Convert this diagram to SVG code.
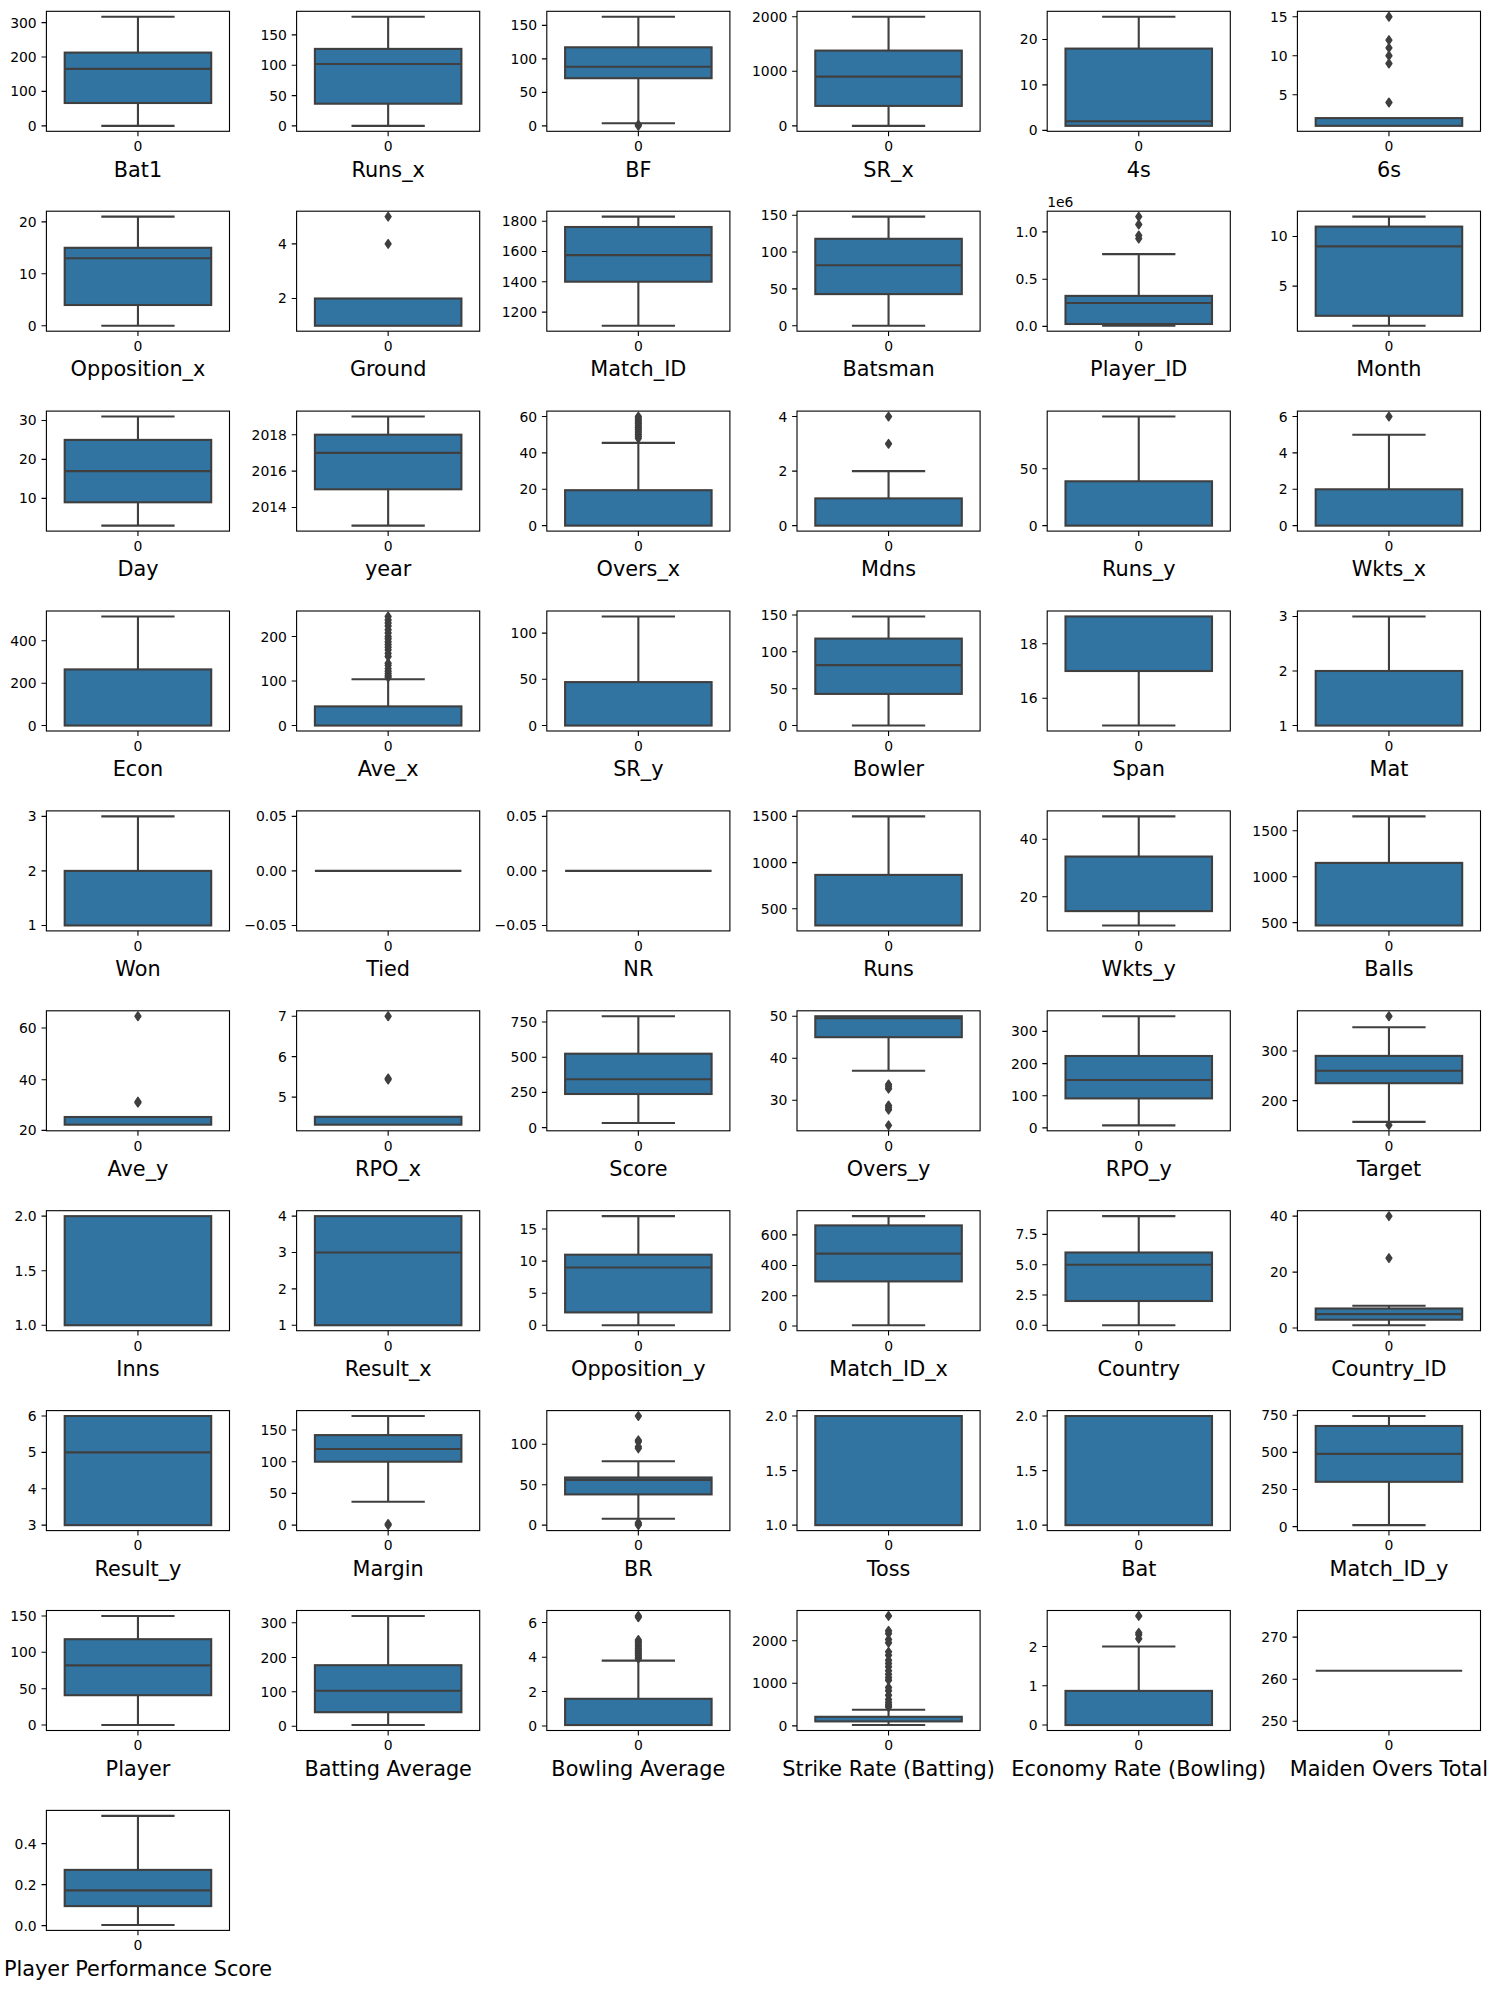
<svg xmlns="http://www.w3.org/2000/svg" xmlns:xlink="http://www.w3.org/1999/xlink" width="1489" height="1990" viewBox="0 0 1489 1990">
<style>
.bg{fill:#fff}
.fr{fill:none;stroke:#000;stroke-width:1.1}
.bx{fill:#3274a1;stroke:#3f3f3f;stroke-width:2.1}
.ln{fill:none;stroke:#3f3f3f;stroke-width:2.1}
.tk{fill:none;stroke:#000;stroke-width:1.1}
text{font-family:"DejaVu Sans","Noto Sans",sans-serif;fill:#000}
.tl{font-size:13.9px;text-anchor:end}
.x0{font-size:13.9px;text-anchor:middle}
.of{font-size:13.9px;text-anchor:start}
.lb{font-size:20.8px;text-anchor:middle}
</style>
<defs>
<path id="d" d="M0,-4.2L2.9,0L0,4.2L-2.9,0Z" fill="#3f3f3f" stroke="#3f3f3f" stroke-width="1.5" stroke-linejoin="round"/>
</defs>
<rect width="1489" height="1990" fill="#fff"/>
<g id="connectors"/>

<!-- Row 0 -->
<g id="plot-bat1" transform="translate(46.4,11.3)">
<rect class="bg" width="183.1" height="120"/>
<path class="ln" d="M91.55,41.3V5.45M54.9,5.45H128.2M91.55,91.7V114.55M54.9,114.55H128.2"/>
<rect class="bx" x="18.3" y="41.3" width="146.5" height="50.4"/>
<path class="ln" d="M18.3,57.6H164.8"/>
<rect class="fr" width="183.1" height="120"/>
<path class="tk" d="M-4.9,11.3H0M-4.9,45.7H0M-4.9,80.1H0M-4.9,114.55H0M91.55,120V124.9"/>
<text class="tl" x="-9.7" y="16.3">300</text><text class="tl" x="-9.7" y="50.7">200</text><text class="tl" x="-9.7" y="85.1">100</text><text class="tl" x="-9.7" y="119.55">0</text>
<text class="x0" x="91.55" y="139.9">0</text>
<text class="lb" x="91.55" y="165.3">Bat1</text>
</g>

<g id="plot-runs-x" transform="translate(296.6,11.3)">
<rect class="bg" width="183.1" height="120"/>
<path class="ln" d="M91.55,37.6V5.45M54.9,5.45H128.2M91.55,92.4V114.55M54.9,114.55H128.2"/>
<rect class="bx" x="18.3" y="37.6" width="146.5" height="54.8"/>
<path class="ln" d="M18.3,52.7H164.8"/>
<rect class="fr" width="183.1" height="120"/>
<path class="tk" d="M-4.9,23.6H0M-4.9,54H0M-4.9,84.3H0M-4.9,114.55H0M91.55,120V124.9"/>
<text class="tl" x="-9.7" y="28.6">150</text><text class="tl" x="-9.7" y="59">100</text><text class="tl" x="-9.7" y="89.3">50</text><text class="tl" x="-9.7" y="119.55">0</text>
<text class="x0" x="91.55" y="139.9">0</text>
<text class="lb" x="91.55" y="165.3">Runs_x</text>
</g>

<g id="plot-bf" transform="translate(546.8,11.3)">
<rect class="bg" width="183.1" height="120"/>
<path class="ln" d="M91.55,36V5.45M54.9,5.45H128.2M91.55,66.9V111.9M54.9,111.9H128.2"/>
<rect class="bx" x="18.3" y="36" width="146.5" height="30.9"/>
<path class="ln" d="M18.3,55.5H164.8"/>
<use href="#d" x="91.55" y="114.55"/><use href="#d" x="91.55" y="113.4"/>
<rect class="fr" width="183.1" height="120"/>
<path class="tk" d="M-4.9,14.1H0M-4.9,47.6H0M-4.9,81.1H0M-4.9,114.55H0M91.55,120V124.9"/>
<text class="tl" x="-9.7" y="19.1">150</text><text class="tl" x="-9.7" y="52.6">100</text><text class="tl" x="-9.7" y="86.1">50</text><text class="tl" x="-9.7" y="119.55">0</text>
<text class="x0" x="91.55" y="139.9">0</text>
<text class="lb" x="91.55" y="165.3">BF</text>
</g>

<g id="plot-sr-x" transform="translate(797,11.3)">
<rect class="bg" width="183.1" height="120"/>
<path class="ln" d="M91.55,39.3V5.45M54.9,5.45H128.2M91.55,94.6V114.55M54.9,114.55H128.2"/>
<rect class="bx" x="18.3" y="39.3" width="146.5" height="55.3"/>
<path class="ln" d="M18.3,65.3H164.8"/>
<rect class="fr" width="183.1" height="120"/>
<path class="tk" d="M-4.9,5.45H0M-4.9,60H0M-4.9,114.55H0M91.55,120V124.9"/>
<text class="tl" x="-9.7" y="10.45">2000</text><text class="tl" x="-9.7" y="65">1000</text><text class="tl" x="-9.7" y="119.55">0</text>
<text class="x0" x="91.55" y="139.9">0</text>
<text class="lb" x="91.55" y="165.3">SR_x</text>
</g>

<g id="plot-4s" transform="translate(1047.2,11.3)">
<rect class="bg" width="183.1" height="120"/>
<path class="ln" d="M91.55,37.3V5.45M54.9,5.45H128.2"/>
<rect class="bx" x="18.3" y="37.3" width="146.5" height="77.25"/>
<path class="ln" d="M18.3,110H164.8"/>
<rect class="fr" width="183.1" height="120"/>
<path class="tk" d="M-4.9,28.2H0M-4.9,73.6H0M-4.9,119.1H0M91.55,120V124.9"/>
<text class="tl" x="-9.7" y="33.2">20</text><text class="tl" x="-9.7" y="78.6">10</text><text class="tl" x="-9.7" y="124.1">0</text>
<text class="x0" x="91.55" y="139.9">0</text>
<text class="lb" x="91.55" y="165.3">4s</text>
</g>

<g id="plot-6s" transform="translate(1297.4,11.3)">
<rect class="bg" width="183.1" height="120"/>
<rect class="bx" x="18.3" y="106.8" width="146.5" height="7.75"/>
<use href="#d" x="91.55" y="5.45"/><use href="#d" x="91.55" y="28.8"/><use href="#d" x="91.55" y="36.6"/><use href="#d" x="91.55" y="44.4"/><use href="#d" x="91.55" y="52.2"/><use href="#d" x="91.55" y="91.2"/>
<rect class="fr" width="183.1" height="120"/>
<path class="tk" d="M-4.9,5.45H0M-4.9,44.4H0M-4.9,83.4H0M91.55,120V124.9"/>
<text class="tl" x="-9.7" y="10.45">15</text><text class="tl" x="-9.7" y="49.4">10</text><text class="tl" x="-9.7" y="88.4">5</text>
<text class="x0" x="91.55" y="139.9">0</text>
<text class="lb" x="91.55" y="165.3">6s</text>
</g>

<!-- Row 1 -->
<g id="plot-opposition-x" transform="translate(46.4,211.2)">
<rect class="bg" width="183.1" height="120"/>
<path class="ln" d="M91.55,36.6V5.45M54.9,5.45H128.2M91.55,93.8V114.55M54.9,114.55H128.2"/>
<rect class="bx" x="18.3" y="36.6" width="146.5" height="57.2"/>
<path class="ln" d="M18.3,47H164.8"/>
<rect class="fr" width="183.1" height="120"/>
<path class="tk" d="M-4.9,10.65H0M-4.9,62.6H0M-4.9,114.55H0M91.55,120V124.9"/>
<text class="tl" x="-9.7" y="15.65">20</text><text class="tl" x="-9.7" y="67.6">10</text><text class="tl" x="-9.7" y="119.55">0</text>
<text class="x0" x="91.55" y="139.9">0</text>
<text class="lb" x="91.55" y="165.3">Opposition_x</text>
</g>

<g id="plot-ground" transform="translate(296.6,211.2)">
<rect class="bg" width="183.1" height="120"/>
<rect class="bx" x="18.3" y="87.3" width="146.5" height="27.25"/>
<use href="#d" x="91.55" y="5.45"/><use href="#d" x="91.55" y="32.7"/>
<rect class="fr" width="183.1" height="120"/>
<path class="tk" d="M-4.9,32.7H0M-4.9,87.3H0M91.55,120V124.9"/>
<text class="tl" x="-9.7" y="37.7">4</text><text class="tl" x="-9.7" y="92.3">2</text>
<text class="x0" x="91.55" y="139.9">0</text>
<text class="lb" x="91.55" y="165.3">Ground</text>
</g>

<g id="plot-match-id" transform="translate(546.8,211.2)">
<rect class="bg" width="183.1" height="120"/>
<path class="ln" d="M91.55,15.8V5.45M54.9,5.45H128.2M91.55,70.5V114.55M54.9,114.55H128.2"/>
<rect class="bx" x="18.3" y="15.8" width="146.5" height="54.7"/>
<path class="ln" d="M18.3,43.9H164.8"/>
<rect class="fr" width="183.1" height="120"/>
<path class="tk" d="M-4.9,10H0M-4.9,40.3H0M-4.9,70.6H0M-4.9,100.9H0M91.55,120V124.9"/>
<text class="tl" x="-9.7" y="15">1800</text><text class="tl" x="-9.7" y="45.3">1600</text><text class="tl" x="-9.7" y="75.6">1400</text><text class="tl" x="-9.7" y="105.9">1200</text>
<text class="x0" x="91.55" y="139.9">0</text>
<text class="lb" x="91.55" y="165.3">Match_ID</text>
</g>

<g id="plot-batsman" transform="translate(797,211.2)">
<rect class="bg" width="183.1" height="120"/>
<path class="ln" d="M91.55,27.6V5.45M54.9,5.45H128.2M91.55,82.9V114.55M54.9,114.55H128.2"/>
<rect class="bx" x="18.3" y="27.6" width="146.5" height="55.3"/>
<path class="ln" d="M18.3,54.1H164.8"/>
<rect class="fr" width="183.1" height="120"/>
<path class="tk" d="M-4.9,4H0M-4.9,40.8H0M-4.9,77.7H0M-4.9,114.55H0M91.55,120V124.9"/>
<text class="tl" x="-9.7" y="9">150</text><text class="tl" x="-9.7" y="45.8">100</text><text class="tl" x="-9.7" y="82.7">50</text><text class="tl" x="-9.7" y="119.55">0</text>
<text class="x0" x="91.55" y="139.9">0</text>
<text class="lb" x="91.55" y="165.3">Batsman</text>
</g>

<g id="plot-player-id" transform="translate(1047.2,211.2)">
<rect class="bg" width="183.1" height="120"/>
<path class="ln" d="M91.55,84.7V42.9M54.9,42.9H128.2M91.55,112.8V114.55M54.9,114.55H128.2"/>
<rect class="bx" x="18.3" y="84.7" width="146.5" height="28.1"/>
<path class="ln" d="M18.3,91.8H164.8"/>
<use href="#d" x="91.55" y="5.45"/><use href="#d" x="91.55" y="13.3"/><use href="#d" x="91.55" y="24.3"/><use href="#d" x="91.55" y="27.4"/>
<rect class="fr" width="183.1" height="120"/>
<path class="tk" d="M-4.9,20.7H0M-4.9,68H0M-4.9,115.2H0M91.55,120V124.9"/>
<text class="tl" x="-9.7" y="25.7">1.0</text><text class="tl" x="-9.7" y="73">0.5</text><text class="tl" x="-9.7" y="120.2">0.0</text>
<text class="of" x="0" y="-4">1e6</text>
<text class="x0" x="91.55" y="139.9">0</text>
<text class="lb" x="91.55" y="165.3">Player_ID</text>
</g>

<g id="plot-month" transform="translate(1297.4,211.2)">
<rect class="bg" width="183.1" height="120"/>
<path class="ln" d="M91.55,15.4V5.45M54.9,5.45H128.2M91.55,104.6V114.55M54.9,114.55H128.2"/>
<rect class="bx" x="18.3" y="15.4" width="146.5" height="89.2"/>
<path class="ln" d="M18.3,35.2H164.8"/>
<rect class="fr" width="183.1" height="120"/>
<path class="tk" d="M-4.9,25.3H0M-4.9,74.9H0M91.55,120V124.9"/>
<text class="tl" x="-9.7" y="30.3">10</text><text class="tl" x="-9.7" y="79.9">5</text>
<text class="x0" x="91.55" y="139.9">0</text>
<text class="lb" x="91.55" y="165.3">Month</text>
</g>

<!-- Row 2 -->
<g id="plot-day" transform="translate(46.4,411.1)">
<rect class="bg" width="183.1" height="120"/>
<path class="ln" d="M91.55,28.8V5.45M54.9,5.45H128.2M91.55,91.2V114.55M54.9,114.55H128.2"/>
<rect class="bx" x="18.3" y="28.8" width="146.5" height="62.4"/>
<path class="ln" d="M18.3,60H164.8"/>
<rect class="fr" width="183.1" height="120"/>
<path class="tk" d="M-4.9,9.35H0M-4.9,48.3H0M-4.9,87.3H0M91.55,120V124.9"/>
<text class="tl" x="-9.7" y="14.35">30</text><text class="tl" x="-9.7" y="53.3">20</text><text class="tl" x="-9.7" y="92.3">10</text>
<text class="x0" x="91.55" y="139.9">0</text>
<text class="lb" x="91.55" y="165.3">Day</text>
</g>

<g id="plot-year" transform="translate(296.6,411.1)">
<rect class="bg" width="183.1" height="120"/>
<path class="ln" d="M91.55,23.6V5.45M54.9,5.45H128.2M91.55,78.2V114.55M54.9,114.55H128.2"/>
<rect class="bx" x="18.3" y="23.6" width="146.5" height="54.6"/>
<path class="ln" d="M18.3,41.8H164.8"/>
<rect class="fr" width="183.1" height="120"/>
<path class="tk" d="M-4.9,23.6H0M-4.9,60H0M-4.9,96.4H0M91.55,120V124.9"/>
<text class="tl" x="-9.7" y="28.6">2018</text><text class="tl" x="-9.7" y="65">2016</text><text class="tl" x="-9.7" y="101.4">2014</text>
<text class="x0" x="91.55" y="139.9">0</text>
<text class="lb" x="91.55" y="165.3">year</text>
</g>

<g id="plot-overs-x" transform="translate(546.8,411.1)">
<rect class="bg" width="183.1" height="120"/>
<path class="ln" d="M91.55,79.1V31.8M54.9,31.8H128.2"/>
<rect class="bx" x="18.3" y="79.1" width="146.5" height="35.45"/>
<use href="#d" x="91.55" y="5.45"/><use href="#d" x="91.55" y="7.3"/><use href="#d" x="91.55" y="9.1"/><use href="#d" x="91.55" y="10.9"/><use href="#d" x="91.55" y="12.7"/><use href="#d" x="91.55" y="14.6"/><use href="#d" x="91.55" y="16.4"/><use href="#d" x="91.55" y="18.2"/><use href="#d" x="91.55" y="20"/><use href="#d" x="91.55" y="21.8"/><use href="#d" x="91.55" y="23.7"/><use href="#d" x="91.55" y="25.5"/><use href="#d" x="91.55" y="27.3"/>
<rect class="fr" width="183.1" height="120"/>
<path class="tk" d="M-4.9,5.45H0M-4.9,41.8H0M-4.9,78.2H0M-4.9,114.55H0M91.55,120V124.9"/>
<text class="tl" x="-9.7" y="10.45">60</text><text class="tl" x="-9.7" y="46.8">40</text><text class="tl" x="-9.7" y="83.2">20</text><text class="tl" x="-9.7" y="119.55">0</text>
<text class="x0" x="91.55" y="139.9">0</text>
<text class="lb" x="91.55" y="165.3">Overs_x</text>
</g>

<g id="plot-mdns" transform="translate(797,411.1)">
<rect class="bg" width="183.1" height="120"/>
<path class="ln" d="M91.55,87.3V60M54.9,60H128.2"/>
<rect class="bx" x="18.3" y="87.3" width="146.5" height="27.25"/>
<use href="#d" x="91.55" y="5.45"/><use href="#d" x="91.55" y="32.7"/>
<rect class="fr" width="183.1" height="120"/>
<path class="tk" d="M-4.9,5.45H0M-4.9,60H0M-4.9,114.55H0M91.55,120V124.9"/>
<text class="tl" x="-9.7" y="10.45">4</text><text class="tl" x="-9.7" y="65">2</text><text class="tl" x="-9.7" y="119.55">0</text>
<text class="x0" x="91.55" y="139.9">0</text>
<text class="lb" x="91.55" y="165.3">Mdns</text>
</g>

<g id="plot-runs-y" transform="translate(1047.2,411.1)">
<rect class="bg" width="183.1" height="120"/>
<path class="ln" d="M91.55,70.2V5.45M54.9,5.45H128.2"/>
<rect class="bx" x="18.3" y="70.2" width="146.5" height="44.35"/>
<rect class="fr" width="183.1" height="120"/>
<path class="tk" d="M-4.9,57.7H0M-4.9,114.55H0M91.55,120V124.9"/>
<text class="tl" x="-9.7" y="62.7">50</text><text class="tl" x="-9.7" y="119.55">0</text>
<text class="x0" x="91.55" y="139.9">0</text>
<text class="lb" x="91.55" y="165.3">Runs_y</text>
</g>

<g id="plot-wkts-x" transform="translate(1297.4,411.1)">
<rect class="bg" width="183.1" height="120"/>
<path class="ln" d="M91.55,78.2V23.6M54.9,23.6H128.2"/>
<rect class="bx" x="18.3" y="78.2" width="146.5" height="36.35"/>
<use href="#d" x="91.55" y="5.45"/>
<rect class="fr" width="183.1" height="120"/>
<path class="tk" d="M-4.9,5.45H0M-4.9,41.8H0M-4.9,78.2H0M-4.9,114.55H0M91.55,120V124.9"/>
<text class="tl" x="-9.7" y="10.45">6</text><text class="tl" x="-9.7" y="46.8">4</text><text class="tl" x="-9.7" y="83.2">2</text><text class="tl" x="-9.7" y="119.55">0</text>
<text class="x0" x="91.55" y="139.9">0</text>
<text class="lb" x="91.55" y="165.3">Wkts_x</text>
</g>

<!-- Row 3 -->
<g id="plot-econ" transform="translate(46.4,611)">
<rect class="bg" width="183.1" height="120"/>
<path class="ln" d="M91.55,58.4V5.45M54.9,5.45H128.2"/>
<rect class="bx" x="18.3" y="58.4" width="146.5" height="56.15"/>
<rect class="fr" width="183.1" height="120"/>
<path class="tk" d="M-4.9,29.8H0M-4.9,72.2H0M-4.9,114.55H0M91.55,120V124.9"/>
<text class="tl" x="-9.7" y="34.8">400</text><text class="tl" x="-9.7" y="77.2">200</text><text class="tl" x="-9.7" y="119.55">0</text>
<text class="x0" x="91.55" y="139.9">0</text>
<text class="lb" x="91.55" y="165.3">Econ</text>
</g>

<g id="plot-ave-x" transform="translate(296.6,611)">
<rect class="bg" width="183.1" height="120"/>
<path class="ln" d="M91.55,95.4V68.2M54.9,68.2H128.2"/>
<rect class="bx" x="18.3" y="95.4" width="146.5" height="19.15"/>
<use href="#d" x="91.55" y="5.45"/><use href="#d" x="91.55" y="9"/><use href="#d" x="91.55" y="12"/><use href="#d" x="91.55" y="15"/><use href="#d" x="91.55" y="18.8"/><use href="#d" x="91.55" y="22"/><use href="#d" x="91.55" y="25.5"/><use href="#d" x="91.55" y="27.7"/><use href="#d" x="91.55" y="30.8"/><use href="#d" x="91.55" y="33.5"/><use href="#d" x="91.55" y="36.2"/><use href="#d" x="91.55" y="38.9"/><use href="#d" x="91.55" y="42.4"/><use href="#d" x="91.55" y="45.5"/><use href="#d" x="91.55" y="52.2"/><use href="#d" x="91.55" y="54.4"/><use href="#d" x="91.55" y="57.6"/><use href="#d" x="91.55" y="60.2"/><use href="#d" x="91.55" y="62.5"/><use href="#d" x="91.55" y="64.7"/><use href="#d" x="91.55" y="66.3"/>
<rect class="fr" width="183.1" height="120"/>
<path class="tk" d="M-4.9,25.5H0M-4.9,70H0M-4.9,114.55H0M91.55,120V124.9"/>
<text class="tl" x="-9.7" y="30.5">200</text><text class="tl" x="-9.7" y="75">100</text><text class="tl" x="-9.7" y="119.55">0</text>
<text class="x0" x="91.55" y="139.9">0</text>
<text class="lb" x="91.55" y="165.3">Ave_x</text>
</g>

<g id="plot-sr-y" transform="translate(546.8,611)">
<rect class="bg" width="183.1" height="120"/>
<path class="ln" d="M91.55,71.1V5.45M54.9,5.45H128.2"/>
<rect class="bx" x="18.3" y="71.1" width="146.5" height="43.45"/>
<rect class="fr" width="183.1" height="120"/>
<path class="tk" d="M-4.9,22.1H0M-4.9,68.3H0M-4.9,114.55H0M91.55,120V124.9"/>
<text class="tl" x="-9.7" y="27.1">100</text><text class="tl" x="-9.7" y="73.3">50</text><text class="tl" x="-9.7" y="119.55">0</text>
<text class="x0" x="91.55" y="139.9">0</text>
<text class="lb" x="91.55" y="165.3">SR_y</text>
</g>

<g id="plot-bowler" transform="translate(797,611)">
<rect class="bg" width="183.1" height="120"/>
<path class="ln" d="M91.55,27.6V5.45M54.9,5.45H128.2M91.55,82.9V114.55M54.9,114.55H128.2"/>
<rect class="bx" x="18.3" y="27.6" width="146.5" height="55.3"/>
<path class="ln" d="M18.3,54.1H164.8"/>
<rect class="fr" width="183.1" height="120"/>
<path class="tk" d="M-4.9,4H0M-4.9,40.8H0M-4.9,77.7H0M-4.9,114.55H0M91.55,120V124.9"/>
<text class="tl" x="-9.7" y="9">150</text><text class="tl" x="-9.7" y="45.8">100</text><text class="tl" x="-9.7" y="82.7">50</text><text class="tl" x="-9.7" y="119.55">0</text>
<text class="x0" x="91.55" y="139.9">0</text>
<text class="lb" x="91.55" y="165.3">Bowler</text>
</g>

<g id="plot-span" transform="translate(1047.2,611)">
<rect class="bg" width="183.1" height="120"/>
<path class="ln" d="M91.55,60V114.55M54.9,114.55H128.2"/>
<rect class="bx" x="18.3" y="5.45" width="146.5" height="54.55"/>
<rect class="fr" width="183.1" height="120"/>
<path class="tk" d="M-4.9,32.7H0M-4.9,87.3H0M91.55,120V124.9"/>
<text class="tl" x="-9.7" y="37.7">18</text><text class="tl" x="-9.7" y="92.3">16</text>
<text class="x0" x="91.55" y="139.9">0</text>
<text class="lb" x="91.55" y="165.3">Span</text>
</g>

<g id="plot-mat" transform="translate(1297.4,611)">
<rect class="bg" width="183.1" height="120"/>
<path class="ln" d="M91.55,60V5.45M54.9,5.45H128.2"/>
<rect class="bx" x="18.3" y="60" width="146.5" height="54.55"/>
<rect class="fr" width="183.1" height="120"/>
<path class="tk" d="M-4.9,5.45H0M-4.9,60H0M-4.9,114.55H0M91.55,120V124.9"/>
<text class="tl" x="-9.7" y="10.45">3</text><text class="tl" x="-9.7" y="65">2</text><text class="tl" x="-9.7" y="119.55">1</text>
<text class="x0" x="91.55" y="139.9">0</text>
<text class="lb" x="91.55" y="165.3">Mat</text>
</g>

<!-- Row 4 -->
<g id="plot-won" transform="translate(46.4,810.9)">
<rect class="bg" width="183.1" height="120"/>
<path class="ln" d="M91.55,60V5.45M54.9,5.45H128.2"/>
<rect class="bx" x="18.3" y="60" width="146.5" height="54.55"/>
<rect class="fr" width="183.1" height="120"/>
<path class="tk" d="M-4.9,5.45H0M-4.9,60H0M-4.9,114.55H0M91.55,120V124.9"/>
<text class="tl" x="-9.7" y="10.45">3</text><text class="tl" x="-9.7" y="65">2</text><text class="tl" x="-9.7" y="119.55">1</text>
<text class="x0" x="91.55" y="139.9">0</text>
<text class="lb" x="91.55" y="165.3">Won</text>
</g>

<g id="plot-tied" transform="translate(296.6,810.9)">
<rect class="bg" width="183.1" height="120"/>
<path class="ln" d="M18.3,60H164.8"/>
<rect class="fr" width="183.1" height="120"/>
<path class="tk" d="M-4.9,5.45H0M-4.9,60H0M-4.9,114.55H0M91.55,120V124.9"/>
<text class="tl" x="-9.7" y="10.45">0.05</text><text class="tl" x="-9.7" y="65">0.00</text><text class="tl" x="-9.7" y="119.55">−0.05</text>
<text class="x0" x="91.55" y="139.9">0</text>
<text class="lb" x="91.55" y="165.3">Tied</text>
</g>

<g id="plot-nr" transform="translate(546.8,810.9)">
<rect class="bg" width="183.1" height="120"/>
<path class="ln" d="M18.3,60H164.8"/>
<rect class="fr" width="183.1" height="120"/>
<path class="tk" d="M-4.9,5.45H0M-4.9,60H0M-4.9,114.55H0M91.55,120V124.9"/>
<text class="tl" x="-9.7" y="10.45">0.05</text><text class="tl" x="-9.7" y="65">0.00</text><text class="tl" x="-9.7" y="119.55">−0.05</text>
<text class="x0" x="91.55" y="139.9">0</text>
<text class="lb" x="91.55" y="165.3">NR</text>
</g>

<g id="plot-runs" transform="translate(797,810.9)">
<rect class="bg" width="183.1" height="120"/>
<path class="ln" d="M91.55,64V5.45M54.9,5.45H128.2"/>
<rect class="bx" x="18.3" y="64" width="146.5" height="50.55"/>
<rect class="fr" width="183.1" height="120"/>
<path class="tk" d="M-4.9,5.45H0M-4.9,51.7H0M-4.9,97.9H0M91.55,120V124.9"/>
<text class="tl" x="-9.7" y="10.45">1500</text><text class="tl" x="-9.7" y="56.7">1000</text><text class="tl" x="-9.7" y="102.9">500</text>
<text class="x0" x="91.55" y="139.9">0</text>
<text class="lb" x="91.55" y="165.3">Runs</text>
</g>

<g id="plot-wkts-y" transform="translate(1047.2,810.9)">
<rect class="bg" width="183.1" height="120"/>
<path class="ln" d="M91.55,45.65V5.45M54.9,5.45H128.2M91.55,100.2V114.55M54.9,114.55H128.2"/>
<rect class="bx" x="18.3" y="45.65" width="146.5" height="54.55"/>
<rect class="fr" width="183.1" height="120"/>
<path class="tk" d="M-4.9,28.4H0M-4.9,85.8H0M91.55,120V124.9"/>
<text class="tl" x="-9.7" y="33.4">40</text><text class="tl" x="-9.7" y="90.8">20</text>
<text class="x0" x="91.55" y="139.9">0</text>
<text class="lb" x="91.55" y="165.3">Wkts_y</text>
</g>

<g id="plot-balls" transform="translate(1297.4,810.9)">
<rect class="bg" width="183.1" height="120"/>
<path class="ln" d="M91.55,52V5.45M54.9,5.45H128.2"/>
<rect class="bx" x="18.3" y="52" width="146.5" height="62.55"/>
<rect class="fr" width="183.1" height="120"/>
<path class="tk" d="M-4.9,19.9H0M-4.9,65.8H0M-4.9,111.7H0M91.55,120V124.9"/>
<text class="tl" x="-9.7" y="24.9">1500</text><text class="tl" x="-9.7" y="70.8">1000</text><text class="tl" x="-9.7" y="116.7">500</text>
<text class="x0" x="91.55" y="139.9">0</text>
<text class="lb" x="91.55" y="165.3">Balls</text>
</g>

<!-- Row 5 -->
<g id="plot-ave-y" transform="translate(46.4,1010.8)">
<rect class="bg" width="183.1" height="120"/>
<rect class="bx" x="18.3" y="106.2" width="146.5" height="7.7"/>
<use href="#d" x="91.55" y="5.45"/><use href="#d" x="91.55" y="90.8"/><use href="#d" x="91.55" y="91.9"/>
<rect class="fr" width="183.1" height="120"/>
<path class="tk" d="M-4.9,17.2H0M-4.9,68.9H0M-4.9,119.6H0M91.55,120V124.9"/>
<text class="tl" x="-9.7" y="22.2">60</text><text class="tl" x="-9.7" y="73.9">40</text><text class="tl" x="-9.7" y="124.6">20</text>
<text class="x0" x="91.55" y="139.9">0</text>
<text class="lb" x="91.55" y="165.3">Ave_y</text>
</g>

<g id="plot-rpo-x" transform="translate(296.6,1010.8)">
<rect class="bg" width="183.1" height="120"/>
<rect class="bx" x="18.3" y="106" width="146.5" height="7.9"/>
<use href="#d" x="91.55" y="5.45"/><use href="#d" x="91.55" y="67.6"/><use href="#d" x="91.55" y="68.8"/>
<rect class="fr" width="183.1" height="120"/>
<path class="tk" d="M-4.9,5.45H0M-4.9,45.8H0M-4.9,86.3H0M91.55,120V124.9"/>
<text class="tl" x="-9.7" y="10.45">7</text><text class="tl" x="-9.7" y="50.8">6</text><text class="tl" x="-9.7" y="91.3">5</text>
<text class="x0" x="91.55" y="139.9">0</text>
<text class="lb" x="91.55" y="165.3">RPO_x</text>
</g>

<g id="plot-score" transform="translate(546.8,1010.8)">
<rect class="bg" width="183.1" height="120"/>
<path class="ln" d="M91.55,42.9V5.45M54.9,5.45H128.2M91.55,83.2V112.2M54.9,112.2H128.2"/>
<rect class="bx" x="18.3" y="42.9" width="146.5" height="40.3"/>
<path class="ln" d="M18.3,68.4H164.8"/>
<rect class="fr" width="183.1" height="120"/>
<path class="tk" d="M-4.9,11.2H0M-4.9,46.4H0M-4.9,81.6H0M-4.9,116.8H0M91.55,120V124.9"/>
<text class="tl" x="-9.7" y="16.2">750</text><text class="tl" x="-9.7" y="51.4">500</text><text class="tl" x="-9.7" y="86.6">250</text><text class="tl" x="-9.7" y="121.8">0</text>
<text class="x0" x="91.55" y="139.9">0</text>
<text class="lb" x="91.55" y="165.3">Score</text>
</g>

<g id="plot-overs-y" transform="translate(797,1010.8)">
<rect class="bg" width="183.1" height="120"/>
<path class="ln" d="M91.55,26.4V60M54.9,60H128.2"/>
<rect class="bx" x="18.3" y="5.45" width="146.5" height="20.95"/>
<path class="ln" d="M18.3,7.4H164.8"/>
<use href="#d" x="91.55" y="73.7"/><use href="#d" x="91.55" y="75.8"/><use href="#d" x="91.55" y="77.9"/><use href="#d" x="91.55" y="94.7"/><use href="#d" x="91.55" y="96.8"/><use href="#d" x="91.55" y="98.9"/><use href="#d" x="91.55" y="114.55"/>
<rect class="fr" width="183.1" height="120"/>
<path class="tk" d="M-4.9,5.45H0M-4.9,47.4H0M-4.9,89.4H0M91.55,120V124.9"/>
<text class="tl" x="-9.7" y="10.45">50</text><text class="tl" x="-9.7" y="52.4">40</text><text class="tl" x="-9.7" y="94.4">30</text>
<text class="x0" x="91.55" y="139.9">0</text>
<text class="lb" x="91.55" y="165.3">Overs_y</text>
</g>

<g id="plot-rpo-y" transform="translate(1047.2,1010.8)">
<rect class="bg" width="183.1" height="120"/>
<path class="ln" d="M91.55,45.2V5.45M54.9,5.45H128.2M91.55,87.6V114.55M54.9,114.55H128.2"/>
<rect class="bx" x="18.3" y="45.2" width="146.5" height="42.4"/>
<path class="ln" d="M18.3,69.2H164.8"/>
<rect class="fr" width="183.1" height="120"/>
<path class="tk" d="M-4.9,20.6H0M-4.9,52.8H0M-4.9,85H0M-4.9,117.1H0M91.55,120V124.9"/>
<text class="tl" x="-9.7" y="25.6">300</text><text class="tl" x="-9.7" y="57.8">200</text><text class="tl" x="-9.7" y="90">100</text><text class="tl" x="-9.7" y="122.1">0</text>
<text class="x0" x="91.55" y="139.9">0</text>
<text class="lb" x="91.55" y="165.3">RPO_y</text>
</g>

<g id="plot-target" transform="translate(1297.4,1010.8)">
<rect class="bg" width="183.1" height="120"/>
<path class="ln" d="M91.55,45.1V16.4M54.9,16.4H128.2M91.55,72.4V111.1M54.9,111.1H128.2"/>
<rect class="bx" x="18.3" y="45.1" width="146.5" height="27.3"/>
<path class="ln" d="M18.3,60H164.8"/>
<use href="#d" x="91.55" y="5.45"/><use href="#d" x="91.55" y="114.3"/>
<rect class="fr" width="183.1" height="120"/>
<path class="tk" d="M-4.9,40.2H0M-4.9,89.8H0M91.55,120V124.9"/>
<text class="tl" x="-9.7" y="45.2">300</text><text class="tl" x="-9.7" y="94.8">200</text>
<text class="x0" x="91.55" y="139.9">0</text>
<text class="lb" x="91.55" y="165.3">Target</text>
</g>

<!-- Row 6 -->
<g id="plot-inns" transform="translate(46.4,1210.7)">
<rect class="bg" width="183.1" height="120"/>
<rect class="bx" x="18.3" y="5.45" width="146.5" height="109.1"/>
<rect class="fr" width="183.1" height="120"/>
<path class="tk" d="M-4.9,5.45H0M-4.9,60H0M-4.9,114.55H0M91.55,120V124.9"/>
<text class="tl" x="-9.7" y="10.45">2.0</text><text class="tl" x="-9.7" y="65">1.5</text><text class="tl" x="-9.7" y="119.55">1.0</text>
<text class="x0" x="91.55" y="139.9">0</text>
<text class="lb" x="91.55" y="165.3">Inns</text>
</g>

<g id="plot-result-x" transform="translate(296.6,1210.7)">
<rect class="bg" width="183.1" height="120"/>
<rect class="bx" x="18.3" y="5.45" width="146.5" height="109.1"/>
<path class="ln" d="M18.3,41.8H164.8"/>
<rect class="fr" width="183.1" height="120"/>
<path class="tk" d="M-4.9,5.45H0M-4.9,41.8H0M-4.9,78.2H0M-4.9,114.55H0M91.55,120V124.9"/>
<text class="tl" x="-9.7" y="10.45">4</text><text class="tl" x="-9.7" y="46.8">3</text><text class="tl" x="-9.7" y="83.2">2</text><text class="tl" x="-9.7" y="119.55">1</text>
<text class="x0" x="91.55" y="139.9">0</text>
<text class="lb" x="91.55" y="165.3">Result_x</text>
</g>

<g id="plot-opposition-y" transform="translate(546.8,1210.7)">
<rect class="bg" width="183.1" height="120"/>
<path class="ln" d="M91.55,44V5.45M54.9,5.45H128.2M91.55,101.7V114.55M54.9,114.55H128.2"/>
<rect class="bx" x="18.3" y="44" width="146.5" height="57.7"/>
<path class="ln" d="M18.3,56.8H164.8"/>
<rect class="fr" width="183.1" height="120"/>
<path class="tk" d="M-4.9,18.3H0M-4.9,50.4H0M-4.9,82.5H0M-4.9,114.55H0M91.55,120V124.9"/>
<text class="tl" x="-9.7" y="23.3">15</text><text class="tl" x="-9.7" y="55.4">10</text><text class="tl" x="-9.7" y="87.5">5</text><text class="tl" x="-9.7" y="119.55">0</text>
<text class="x0" x="91.55" y="139.9">0</text>
<text class="lb" x="91.55" y="165.3">Opposition_y</text>
</g>

<g id="plot-match-id-x" transform="translate(797,1210.7)">
<rect class="bg" width="183.1" height="120"/>
<path class="ln" d="M91.55,14.7V5.45M54.9,5.45H128.2M91.55,70.7V114.55M54.9,114.55H128.2"/>
<rect class="bx" x="18.3" y="14.7" width="146.5" height="56"/>
<path class="ln" d="M18.3,42.9H164.8"/>
<rect class="fr" width="183.1" height="120"/>
<path class="tk" d="M-4.9,24.2H0M-4.9,54.8H0M-4.9,85.1H0M-4.9,115.3H0M91.55,120V124.9"/>
<text class="tl" x="-9.7" y="29.2">600</text><text class="tl" x="-9.7" y="59.8">400</text><text class="tl" x="-9.7" y="90.1">200</text><text class="tl" x="-9.7" y="120.3">0</text>
<text class="x0" x="91.55" y="139.9">0</text>
<text class="lb" x="91.55" y="165.3">Match_ID_x</text>
</g>

<g id="plot-country" transform="translate(1047.2,1210.7)">
<rect class="bg" width="183.1" height="120"/>
<path class="ln" d="M91.55,41.8V5.45M54.9,5.45H128.2M91.55,90.3V114.55M54.9,114.55H128.2"/>
<rect class="bx" x="18.3" y="41.8" width="146.5" height="48.5"/>
<path class="ln" d="M18.3,54H164.8"/>
<rect class="fr" width="183.1" height="120"/>
<path class="tk" d="M-4.9,23.65H0M-4.9,54H0M-4.9,84.3H0M-4.9,114.55H0M91.55,120V124.9"/>
<text class="tl" x="-9.7" y="28.65">7.5</text><text class="tl" x="-9.7" y="59">5.0</text><text class="tl" x="-9.7" y="89.3">2.5</text><text class="tl" x="-9.7" y="119.55">0.0</text>
<text class="x0" x="91.55" y="139.9">0</text>
<text class="lb" x="91.55" y="165.3">Country</text>
</g>

<g id="plot-country-id" transform="translate(1297.4,1210.7)">
<rect class="bg" width="183.1" height="120"/>
<path class="ln" d="M91.55,97.8V95M54.9,95H128.2M91.55,109V114.55M54.9,114.55H128.2"/>
<rect class="bx" x="18.3" y="97.8" width="146.5" height="11.2"/>
<path class="ln" d="M18.3,103.4H164.8"/>
<use href="#d" x="91.55" y="5.45"/><use href="#d" x="91.55" y="47.4"/>
<rect class="fr" width="183.1" height="120"/>
<path class="tk" d="M-4.9,5.45H0M-4.9,61.4H0M-4.9,117.3H0M91.55,120V124.9"/>
<text class="tl" x="-9.7" y="10.45">40</text><text class="tl" x="-9.7" y="66.4">20</text><text class="tl" x="-9.7" y="122.3">0</text>
<text class="x0" x="91.55" y="139.9">0</text>
<text class="lb" x="91.55" y="165.3">Country_ID</text>
</g>

<!-- Row 7 -->
<g id="plot-result-y" transform="translate(46.4,1410.6)">
<rect class="bg" width="183.1" height="120"/>
<rect class="bx" x="18.3" y="5.45" width="146.5" height="109.1"/>
<path class="ln" d="M18.3,41.8H164.8"/>
<rect class="fr" width="183.1" height="120"/>
<path class="tk" d="M-4.9,5.45H0M-4.9,41.8H0M-4.9,78.2H0M-4.9,114.55H0M91.55,120V124.9"/>
<text class="tl" x="-9.7" y="10.45">6</text><text class="tl" x="-9.7" y="46.8">5</text><text class="tl" x="-9.7" y="83.2">4</text><text class="tl" x="-9.7" y="119.55">3</text>
<text class="x0" x="91.55" y="139.9">0</text>
<text class="lb" x="91.55" y="165.3">Result_y</text>
</g>

<g id="plot-margin" transform="translate(296.6,1410.6)">
<rect class="bg" width="183.1" height="120"/>
<path class="ln" d="M91.55,24.5V5.45M54.9,5.45H128.2M91.55,51.1V91.1M54.9,91.1H128.2"/>
<rect class="bx" x="18.3" y="24.5" width="146.5" height="26.6"/>
<path class="ln" d="M18.3,38.4H164.8"/>
<use href="#d" x="91.55" y="114.55"/><use href="#d" x="91.55" y="113.4"/>
<rect class="fr" width="183.1" height="120"/>
<path class="tk" d="M-4.9,19.4H0M-4.9,51.1H0M-4.9,82.8H0M-4.9,114.55H0M91.55,120V124.9"/>
<text class="tl" x="-9.7" y="24.4">150</text><text class="tl" x="-9.7" y="56.1">100</text><text class="tl" x="-9.7" y="87.8">50</text><text class="tl" x="-9.7" y="119.55">0</text>
<text class="x0" x="91.55" y="139.9">0</text>
<text class="lb" x="91.55" y="165.3">Margin</text>
</g>

<g id="plot-br" transform="translate(546.8,1410.6)">
<rect class="bg" width="183.1" height="120"/>
<path class="ln" d="M91.55,66.9V50.7M54.9,50.7H128.2M91.55,83.8V108.1M54.9,108.1H128.2"/>
<rect class="bx" x="18.3" y="66.9" width="146.5" height="16.9"/>
<path class="ln" d="M18.3,69.3H164.8"/>
<use href="#d" x="91.55" y="5.45"/><use href="#d" x="91.55" y="29.7"/><use href="#d" x="91.55" y="31.3"/><use href="#d" x="91.55" y="36.2"/><use href="#d" x="91.55" y="37.8"/><use href="#d" x="91.55" y="112.1"/><use href="#d" x="91.55" y="113.7"/><use href="#d" x="91.55" y="114.55"/>
<rect class="fr" width="183.1" height="120"/>
<path class="tk" d="M-4.9,33.7H0M-4.9,74.1H0M-4.9,114.55H0M91.55,120V124.9"/>
<text class="tl" x="-9.7" y="38.7">100</text><text class="tl" x="-9.7" y="79.1">50</text><text class="tl" x="-9.7" y="119.55">0</text>
<text class="x0" x="91.55" y="139.9">0</text>
<text class="lb" x="91.55" y="165.3">BR</text>
</g>

<g id="plot-toss" transform="translate(797,1410.6)">
<rect class="bg" width="183.1" height="120"/>
<rect class="bx" x="18.3" y="5.45" width="146.5" height="109.1"/>
<rect class="fr" width="183.1" height="120"/>
<path class="tk" d="M-4.9,5.45H0M-4.9,60H0M-4.9,114.55H0M91.55,120V124.9"/>
<text class="tl" x="-9.7" y="10.45">2.0</text><text class="tl" x="-9.7" y="65">1.5</text><text class="tl" x="-9.7" y="119.55">1.0</text>
<text class="x0" x="91.55" y="139.9">0</text>
<text class="lb" x="91.55" y="165.3">Toss</text>
</g>

<g id="plot-bat" transform="translate(1047.2,1410.6)">
<rect class="bg" width="183.1" height="120"/>
<rect class="bx" x="18.3" y="5.45" width="146.5" height="109.1"/>
<rect class="fr" width="183.1" height="120"/>
<path class="tk" d="M-4.9,5.45H0M-4.9,60H0M-4.9,114.55H0M91.55,120V124.9"/>
<text class="tl" x="-9.7" y="10.45">2.0</text><text class="tl" x="-9.7" y="65">1.5</text><text class="tl" x="-9.7" y="119.55">1.0</text>
<text class="x0" x="91.55" y="139.9">0</text>
<text class="lb" x="91.55" y="165.3">Bat</text>
</g>

<g id="plot-match-id-y" transform="translate(1297.4,1410.6)">
<rect class="bg" width="183.1" height="120"/>
<path class="ln" d="M91.55,15.4V5.45M54.9,5.45H128.2M91.55,71.2V114.55M54.9,114.55H128.2"/>
<rect class="bx" x="18.3" y="15.4" width="146.5" height="55.8"/>
<path class="ln" d="M18.3,43.3H164.8"/>
<rect class="fr" width="183.1" height="120"/>
<path class="tk" d="M-4.9,4.7H0M-4.9,41.8H0M-4.9,78.9H0M-4.9,116H0M91.55,120V124.9"/>
<text class="tl" x="-9.7" y="9.7">750</text><text class="tl" x="-9.7" y="46.8">500</text><text class="tl" x="-9.7" y="83.9">250</text><text class="tl" x="-9.7" y="121">0</text>
<text class="x0" x="91.55" y="139.9">0</text>
<text class="lb" x="91.55" y="165.3">Match_ID_y</text>
</g>

<!-- Row 8 -->
<g id="plot-player" transform="translate(46.4,1610.5)">
<rect class="bg" width="183.1" height="120"/>
<path class="ln" d="M91.55,28.7V5.45M54.9,5.45H128.2M91.55,84.7V114.55M54.9,114.55H128.2"/>
<rect class="bx" x="18.3" y="28.7" width="146.5" height="56"/>
<path class="ln" d="M18.3,54.9H164.8"/>
<rect class="fr" width="183.1" height="120"/>
<path class="tk" d="M-4.9,5.45H0M-4.9,41.8H0M-4.9,78.2H0M-4.9,114.55H0M91.55,120V124.9"/>
<text class="tl" x="-9.7" y="10.45">150</text><text class="tl" x="-9.7" y="46.8">100</text><text class="tl" x="-9.7" y="83.2">50</text><text class="tl" x="-9.7" y="119.55">0</text>
<text class="x0" x="91.55" y="139.9">0</text>
<text class="lb" x="91.55" y="165.3">Player</text>
</g>

<g id="plot-batting-average" transform="translate(296.6,1610.5)">
<rect class="bg" width="183.1" height="120"/>
<path class="ln" d="M91.55,54.7V5.45M54.9,5.45H128.2M91.55,101.7V114.55M54.9,114.55H128.2"/>
<rect class="bx" x="18.3" y="54.7" width="146.5" height="47"/>
<path class="ln" d="M18.3,80.3H164.8"/>
<rect class="fr" width="183.1" height="120"/>
<path class="tk" d="M-4.9,12.3H0M-4.9,47H0M-4.9,81.3H0M-4.9,115.7H0M91.55,120V124.9"/>
<text class="tl" x="-9.7" y="17.3">300</text><text class="tl" x="-9.7" y="52">200</text><text class="tl" x="-9.7" y="86.3">100</text><text class="tl" x="-9.7" y="120.7">0</text>
<text class="x0" x="91.55" y="139.9">0</text>
<text class="lb" x="91.55" y="165.3">Batting Average</text>
</g>

<g id="plot-bowling-average" transform="translate(546.8,1610.5)">
<rect class="bg" width="183.1" height="120"/>
<path class="ln" d="M91.55,88.3V50.1M54.9,50.1H128.2"/>
<rect class="bx" x="18.3" y="88.3" width="146.5" height="26.25"/>
<use href="#d" x="91.55" y="5.45"/><use href="#d" x="91.55" y="6.8"/><use href="#d" x="91.55" y="29.5"/><use href="#d" x="91.55" y="31.2"/><use href="#d" x="91.55" y="32.9"/><use href="#d" x="91.55" y="34.7"/><use href="#d" x="91.55" y="36.4"/><use href="#d" x="91.55" y="38.1"/><use href="#d" x="91.55" y="39.8"/><use href="#d" x="91.55" y="41.5"/><use href="#d" x="91.55" y="43.3"/><use href="#d" x="91.55" y="45"/><use href="#d" x="91.55" y="46.7"/><use href="#d" x="91.55" y="48.2"/>
<rect class="fr" width="183.1" height="120"/>
<path class="tk" d="M-4.9,12H0M-4.9,46.7H0M-4.9,81H0M-4.9,115.5H0M91.55,120V124.9"/>
<text class="tl" x="-9.7" y="17">6</text><text class="tl" x="-9.7" y="51.7">4</text><text class="tl" x="-9.7" y="86">2</text><text class="tl" x="-9.7" y="120.5">0</text>
<text class="x0" x="91.55" y="139.9">0</text>
<text class="lb" x="91.55" y="165.3">Bowling Average</text>
</g>

<g id="plot-strike-rate" transform="translate(797,1610.5)">
<rect class="bg" width="183.1" height="120"/>
<path class="ln" d="M91.55,106.3V99.3M54.9,99.3H128.2M91.55,110.9V114.55M54.9,114.55H128.2"/>
<rect class="bx" x="18.3" y="106.3" width="146.5" height="4.6"/>
<use href="#d" x="91.55" y="5.45"/><use href="#d" x="91.55" y="20.3"/><use href="#d" x="91.55" y="23"/><use href="#d" x="91.55" y="29"/><use href="#d" x="91.55" y="32.3"/><use href="#d" x="91.55" y="41.3"/><use href="#d" x="91.55" y="44.7"/><use href="#d" x="91.55" y="49.7"/><use href="#d" x="91.55" y="53"/><use href="#d" x="91.55" y="56.3"/><use href="#d" x="91.55" y="60.3"/><use href="#d" x="91.55" y="63.7"/><use href="#d" x="91.55" y="67"/><use href="#d" x="91.55" y="69.7"/><use href="#d" x="91.55" y="77"/><use href="#d" x="91.55" y="80.3"/><use href="#d" x="91.55" y="84.7"/><use href="#d" x="91.55" y="89"/><use href="#d" x="91.55" y="92"/><use href="#d" x="91.55" y="94.5"/><use href="#d" x="91.55" y="96.5"/>
<rect class="fr" width="183.1" height="120"/>
<path class="tk" d="M-4.9,30.2H0M-4.9,72.8H0M-4.9,115.4H0M91.55,120V124.9"/>
<text class="tl" x="-9.7" y="35.2">2000</text><text class="tl" x="-9.7" y="77.8">1000</text><text class="tl" x="-9.7" y="120.4">0</text>
<text class="x0" x="91.55" y="139.9">0</text>
<text class="lb" x="91.55" y="165.3">Strike Rate (Batting)</text>
</g>

<g id="plot-economy-rate" transform="translate(1047.2,1610.5)">
<rect class="bg" width="183.1" height="120"/>
<path class="ln" d="M91.55,80.4V36.05M54.9,36.05H128.2"/>
<rect class="bx" x="18.3" y="80.4" width="146.5" height="34.15"/>
<use href="#d" x="91.55" y="5.45"/><use href="#d" x="91.55" y="22.3"/><use href="#d" x="91.55" y="24.3"/><use href="#d" x="91.55" y="28.2"/>
<rect class="fr" width="183.1" height="120"/>
<path class="tk" d="M-4.9,36.05H0M-4.9,75.3H0M-4.9,114.55H0M91.55,120V124.9"/>
<text class="tl" x="-9.7" y="41.05">2</text><text class="tl" x="-9.7" y="80.3">1</text><text class="tl" x="-9.7" y="119.55">0</text>
<text class="x0" x="91.55" y="139.9">0</text>
<text class="lb" x="91.55" y="165.3">Economy Rate (Bowling)</text>
</g>

<g id="plot-maiden-overs" transform="translate(1297.4,1610.5)">
<rect class="bg" width="183.1" height="120"/>
<path class="ln" d="M18.3,60.3H164.8"/>
<rect class="fr" width="183.1" height="120"/>
<path class="tk" d="M-4.9,26.6H0M-4.9,68.7H0M-4.9,110.8H0M91.55,120V124.9"/>
<text class="tl" x="-9.7" y="31.6">270</text><text class="tl" x="-9.7" y="73.7">260</text><text class="tl" x="-9.7" y="115.8">250</text>
<text class="x0" x="91.55" y="139.9">0</text>
<text class="lb" x="91.55" y="165.3">Maiden Overs Total</text>
</g>

<!-- Row 9 -->
<g id="plot-player-performance" transform="translate(46.4,1810.4)">
<rect class="bg" width="183.1" height="120"/>
<path class="ln" d="M91.55,59.5V5.45M54.9,5.45H128.2M91.55,95.7V114.55M54.9,114.55H128.2"/>
<rect class="bx" x="18.3" y="59.5" width="146.5" height="36.2"/>
<path class="ln" d="M18.3,80H164.8"/>
<rect class="fr" width="183.1" height="120"/>
<path class="tk" d="M-4.9,33.2H0M-4.9,74.2H0M-4.9,115.2H0M91.55,120V124.9"/>
<text class="tl" x="-9.7" y="38.2">0.4</text><text class="tl" x="-9.7" y="79.2">0.2</text><text class="tl" x="-9.7" y="120.2">0.0</text>
<text class="x0" x="91.55" y="139.9">0</text>
<text class="lb" x="91.55" y="165.3">Player Performance Score</text>
</g>
</svg>
